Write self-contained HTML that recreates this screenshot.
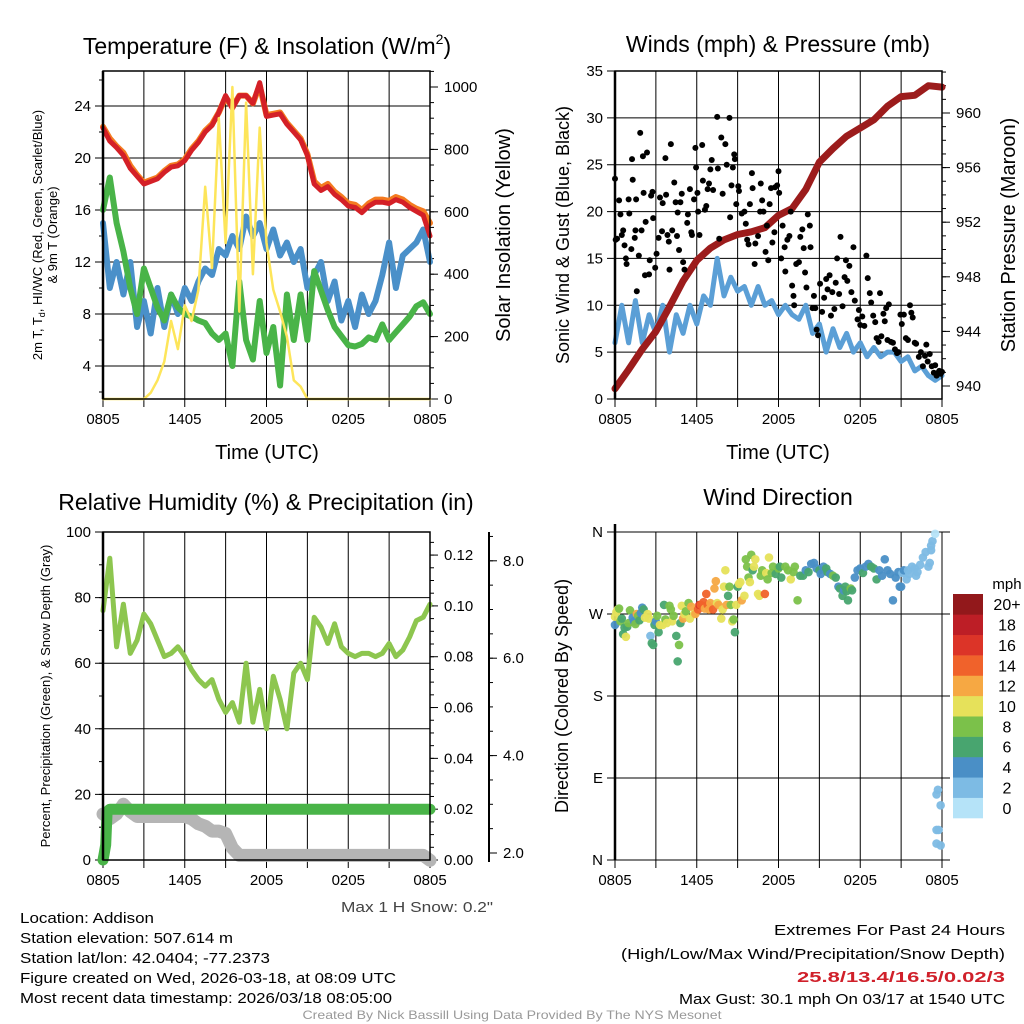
<!DOCTYPE html>
<html><head><meta charset="utf-8"><title>Mesonet Station Meteogram</title>
<style>
html,body{margin:0;padding:0;background:#fff;}
svg{display:block;font-family:"Liberation Sans",sans-serif;}
</style></head>
<body>
<svg id="chart" width="1024" height="1024" viewBox="0 0 1024 1024" xmlns="http://www.w3.org/2000/svg">
<rect x="0" y="0" width="1024" height="1024" fill="#fff"/>
<text x="267" y="54" font-size="23" text-anchor="middle">Temperature (F) &amp; Insolation (W/m<tspan font-size="14" dy="-10">2</tspan><tspan dy="10">)</tspan></text>
<text x="778" y="52" font-size="23" text-anchor="middle">Winds (mph) &amp; Pressure (mb)</text>
<text x="266" y="510" font-size="23" text-anchor="middle">Relative Humidity (%) &amp; Precipitation (in)</text>
<text x="778" y="505" font-size="23" text-anchor="middle">Wind Direction</text>

<text x="267" y="459" font-size="20" text-anchor="middle">Time (UTC)</text>
<text x="778" y="459" font-size="20" text-anchor="middle">Time (UTC)</text>
<text transform="translate(42,235) rotate(-90)" font-size="13" text-anchor="middle">2m T, T<tspan font-size="9" dy="3">d</tspan><tspan dy="-3">, HI/WC (Red, Green, Scarlet/Blue)</tspan></text>
<text transform="translate(57,235) rotate(-90)" font-size="13" text-anchor="middle">&amp; 9m T (Orange)</text>
<text transform="translate(510,235) rotate(-90)" font-size="20" text-anchor="middle">Solar Insolation (Yellow)</text>
<text transform="translate(569,235) rotate(-90)" font-size="18" text-anchor="middle">Sonic Wind &amp; Gust (Blue, Black)</text>
<text transform="translate(1015,235) rotate(-90)" font-size="20" text-anchor="middle">Station Pressure (Maroon)</text>
<text transform="translate(50,696) rotate(-90)" font-size="13" text-anchor="middle">Percent, Precipitation (Green), &amp; Snow Depth (Gray)</text>
<text transform="translate(568,696) rotate(-90)" font-size="18" text-anchor="middle">Direction (Colored By Speed)</text>
<text x="493" y="912" font-size="15" fill="#444" text-anchor="end" textLength="152" lengthAdjust="spacingAndGlyphs">Max 1 H Snow: 0.2"</text>

<g font-size="15">
<text x="20" y="923" textLength="134" lengthAdjust="spacingAndGlyphs">Location: Addison</text>
<text x="20" y="943" textLength="213" lengthAdjust="spacingAndGlyphs">Station elevation: 507.614 m</text>
<text x="20" y="963" textLength="250" lengthAdjust="spacingAndGlyphs">Station lat/lon: 42.0404; -77.2373</text>
<text x="20" y="983" textLength="376" lengthAdjust="spacingAndGlyphs">Figure created on Wed, 2026-03-18, at 08:09 UTC</text>
<text x="20" y="1003" textLength="372" lengthAdjust="spacingAndGlyphs">Most recent data timestamp: 2026/03/18 08:05:00</text>
</g>
<g font-size="15" text-anchor="end">
<text x="1005" y="935" textLength="231" lengthAdjust="spacingAndGlyphs">Extremes For Past 24 Hours</text>
<text x="1005" y="959" textLength="384" lengthAdjust="spacingAndGlyphs">(High/Low/Max Wind/Precipitation/Snow Depth)</text>
<text x="1005" y="982" font-weight="bold" fill="#d0202a" textLength="208" lengthAdjust="spacingAndGlyphs">25.8/13.4/16.5/0.02/3</text>
<text x="1005" y="1004" textLength="326" lengthAdjust="spacingAndGlyphs">Max Gust: 30.1 mph On 03/17 at 1540 UTC</text>
</g>
<text x="512" y="1019" font-size="12" fill="#999" text-anchor="middle" textLength="419" lengthAdjust="spacingAndGlyphs">Created By Nick Bassill Using Data Provided By The NYS Mesonet</text>
</svg>
<script>
// ---------- data (hours since 0805 UTC, 0..24) ----------
const halfHours = [0,0.5,1,1.5,2,2.5,3,3.5,4,4.5,5,5.5,6,6.5,7,7.5,8,8.5,9,9.5,10,10.5,11,11.5,12,12.5,13,13.5,14,14.5,15,15.5,16,16.5,17,17.5,18,18.5,19,19.5,20,20.5,21,21.5,22,22.5,23,23.5,24];
const xTickLabels = ["0805","1405","2005","0205","0805"];
const tempRed = [22.3,21.3,20.8,20.2,19.2,18.6,18.0,18.2,18.4,18.9,19.3,19.4,19.8,20.6,21.2,22.0,22.5,23.5,24.8,23.8,24.8,24.8,24.2,25.8,23.2,23.3,23.4,22.6,22.0,21.4,20.2,18.0,17.5,17.8,17.2,16.8,16.3,16.2,15.8,16.3,16.6,16.6,16.5,16.8,16.6,16.2,15.9,15.6,14.0];
const tempOrange = [22.4,21.5,20.9,20.4,19.4,18.7,18.1,18.3,18.5,19.0,19.4,19.5,19.9,20.7,21.3,22.1,22.6,23.5,24.7,23.9,24.8,24.8,24.2,25.6,23.3,23.4,23.5,22.7,22.1,21.5,20.3,18.2,17.7,18.0,17.4,17.0,16.5,16.4,16.0,16.5,16.8,16.8,16.7,17.0,16.8,16.4,16.1,15.9,15.0];
const tempGreen = [16,18.5,15,12.8,10,8,11.5,10,8.5,7.5,9.5,8.5,8,7.8,7.5,7.3,6.5,6,6.5,4,10.5,6,4.5,9,5,7,2.5,9.5,6,9.5,6,11.3,9.8,8.3,7,6.3,5.6,5.5,5.7,6.2,6,7.2,6,6.6,7.2,7.8,8.6,8.9,8];
const tempBlue = [15,10,12,9.5,12,7,9,6.5,10,7,9.5,8,10,9,10.5,11.5,11,13,12.5,14,13,15.5,14,15,13,14.5,12.5,13.5,12,13,10,11,12,9,10.5,7.5,9,7,9.5,8,9,11,13.5,10,12.5,13,13.5,14.5,12];
const insolation = [0,0,0,0,0,0,0,20,60,120,250,160,300,250,350,680,420,900,500,1000,280,950,400,870,500,350,280,200,60,40,0,0,0,0,0,0,0,0,0,0,0,0,0,0,0,0,0,0,0];
const tempTicks = [4,8,12,16,20,24];
const insolTicks = [0,200,400,600,800,1000];

const windSpeed = [6,10,6,10.5,6,9,7,10,5,9,7,10,8,11,10,15,11,13,11.5,12,10,12,10,10.5,9,10,9,8.5,10,7,8,5,7.5,5.5,7,5,6,4.5,5.5,4.5,5,5,4,4.5,3,3.5,2.5,2,2.5];
const hours = [0,1,2,3,4,5,6,7,8,9,10,11,12,13,14,15,16,17,18,19,20,21,22,23,24];
const pressure = [939.8,941.2,942.7,944,945.8,947.7,949.2,950.1,950.7,951.1,951.3,951.6,952.5,953.0,954.4,956.4,957.4,958.3,958.9,959.5,960.5,961.2,961.3,962,961.9];
const gustTimes = [0,0.05,0.15,0.3,0.4,0.5,0.6,0.7,0.8,0.85,1.0,1.05,1.2,1.25,1.3,1.45,1.5,1.55,1.6,1.75,1.85,1.95,2.05,2.1,2.2,2.25,2.35,2.5,2.55,2.65,2.75,2.8,2.95,3.05,3.2,3.3,3.45,3.5,3.7,3.75,3.85,3.95,4.0,4.1,4.2,4.35,4.45,4.55,4.6,4.7,4.8,4.9,5.0,5.1,5.3,5.35,5.5,5.6,5.65,5.8,5.9,5.95,6.05,6.1,6.2,6.4,6.45,6.6,6.7,6.8,6.9,7.0,7.1,7.2,7.5,7.55,7.65,7.8,7.9,8.1,8.2,8.4,8.45,8.55,8.65,8.75,8.8,8.9,9.05,9.1,9.3,9.5,9.6,9.7,9.8,9.9,10.05,10.1,10.25,10.3,10.5,10.65,10.7,10.8,10.9,11.05,11.15,11.25,11.35,11.45,11.55,11.7,11.75,11.9,12.0,12.05,12.2,12.3,12.45,12.5,12.65,12.8,12.9,13.0,13.1,13.15,13.3,13.5,13.6,13.75,13.85,13.95,14.05,14.15,14.3,14.35,14.5,14.6,14.7,14.8,14.9,15.05,15.2,15.35,15.5,15.6,15.75,15.85,15.95,16.1,16.2,16.3,16.45,16.55,16.7,16.85,16.95,17.05,17.2,17.35,17.5,17.6,17.8,17.9,18.0,18.15,18.3,18.45,18.55,18.7,18.8,18.95,19.1,19.2,19.35,19.45,19.55,19.7,19.8,19.9,20.0,20.1,20.25,20.4,20.55,20.7,20.8,20.95,21.05,21.2,21.35,21.5,21.65,21.75,21.85,22.0,22.1,22.3,22.45,22.6,22.75,22.85,22.95,23.1,23.25,23.4,23.5,23.6,23.7,23.8,23.9,24.0];
const gustValues = [23.5,17,17.1,21.2,19.7,17.5,18,16.4,15,14.4,21.3,19.8,16,25.6,23.4,17.2,18,21.3,11.5,15.3,28.4,18,25.9,22,13.2,18.9,26.3,13.3,14.8,21.7,22.1,19.3,14,15.5,17.2,21.5,17.9,20.9,25.7,21.8,17.5,16.8,13.8,27.2,18,23.1,21,17.4,19.9,15.9,21,21.9,14.6,13.8,18.8,19.7,22.4,17.8,17.5,21.3,26.8,24.7,22,20,17.5,27.1,23.3,20.2,20.6,22.4,23,24.5,25.5,22.3,30.1,24.6,17.1,27.9,21.9,27.2,25,30,19.4,22.8,24.7,26.1,25.6,20.8,22.7,22.2,19.8,20,18.7,17,16.5,20.8,24.1,22.5,14.4,16.6,17.4,20,23,21.2,20,15.7,18.5,14.8,20.8,22.5,16.7,17.8,22.6,22.8,24.3,22,15,18.5,16.2,13.6,17,17.4,20,12.1,11,10,14.4,14.6,17.3,18.1,16.1,13.5,11.9,19.7,18.5,16.2,9.7,11,9.7,7.4,6.8,12.3,9.3,10.8,12.8,11.7,13.2,8.9,11.4,9.6,12.4,15,11.2,17.3,9.9,13,14.8,12.6,14.2,11.4,16.2,10.5,8.5,9.5,7.9,8.8,7.8,15.3,12.9,11.3,10.3,8.9,8.2,6.5,6.1,11.3,6.7,9.1,8.3,9.7,6.3,10.1,6.1,6,5.3,4.9,5,9,8,9,6.5,6.3,10,9.2,8.7,6,5.9,4.5,5,3.5,4.6,5.8,4,4.8,3.5,2.8,3.6,2.5,2.8,3,2.7,2.9];
const windTicks = [0,5,10,15,20,25,30,35];
const pressTicks = [940,944,948,952,956,960];

const relHumidity = [76,92,65,78,63,67,75,72,67,62,63,65,62,58,55,53,55,49,45,48,42,60,42,52,40,56,49,40,57,60,55,74,71,66,72,65,63,62,63,63,62,63,66,62,64,68,73,74,78];
const precipTimes = [0,0.1,0.2,0.3,0.5,24];
const precipValues = [0,0.003,0.006,0.019,0.02,0.02];
const snowDepth = [2.8,2.7,2.8,3.0,2.85,2.75,2.75,2.75,2.75,2.75,2.75,2.75,2.75,2.7,2.6,2.55,2.45,2.45,2.4,2.1,1.95,1.95,1.95,1.95,1.95,1.95,1.95,1.95,1.95,1.95,1.95,1.95,1.95,1.95,1.95,1.95,1.95,1.95,1.95,1.95,1.95,1.95,1.95,1.95,1.95,1.95,1.95,1.95,1.85];
const rhTicks = [0,20,40,60,80,100];
const precipTicks = [0,0.02,0.04,0.06,0.08,0.10,0.12];
const precipTickLabels = ["0.00","0.02","0.04","0.06","0.08","0.10","0.12"];
const snowTicks = [2,4,6,8];
const snowTickLabels = ["2.0","4.0","6.0","8.0"];

const dirTimes = [0,0,0.1,0.2,0.3,0.4,0.5,0.6,0.7,0.8,0.9,1.0,1.1,1.3,1.4,1.5,1.6,1.7,1.8,1.9,2.0,2.1,2.2,2.4,2.5,2.6,2.7,2.8,2.9,3.0,3.1,3.2,3.3,3.5,3.6,3.7,3.8,4.0,4.1,4.2,4.3,4.5,4.6,4.7,4.8,4.9,5.0,5.1,5.2,5.4,5.5,5.6,5.8,5.9,6.1,6.2,6.3,6.5,6.6,6.7,6.8,6.9,7.0,7.2,7.3,7.4,7.5,7.6,7.8,7.9,8.0,8.1,8.2,8.3,8.4,8.5,8.6,8.7,8.8,8.9,9.0,9.1,9.2,9.3,9.5,9.6,9.7,9.8,9.9,10.0,10.1,10.2,10.3,10.5,10.6,10.7,10.8,11.0,11.1,11.2,11.3,11.5,11.6,11.8,12.0,12.1,12.2,12.5,12.7,12.9,13.1,13.2,13.4,13.6,13.8,14.0,14.2,14.4,14.6,14.8,15.0,15.1,15.3,15.5,15.6,15.8,16.0,16.2,16.4,16.5,16.7,16.8,16.9,17.0,17.1,17.3,17.4,17.6,17.8,18.0,18.2,18.4,18.6,18.8,19.0,19.2,19.4,19.6,19.8,20.0,20.2,20.4,20.6,20.8,20.9,21.0,21.1,21.2,21.4,21.5,21.6,21.8,22.0,22.1,22.2,22.4,22.6,22.8,23.0,23.1,23.2,23.3,23.5,23.2,23.6,23.7,23.9,23.6,23.6,23.9,23.75];
const dirDegrees = [258,267,272,275,276,262,265,248,255,245,256,260,274,266,262,259,270,268,263,271,277,275,266,270,265,246,238,236,258,262,268,250,258,258,280,264,260,279,275,262,268,246,218,236,260,279,265,270,273,282,265,278,270,270,275,280,280,283,276,292,280,275,282,275,298,306,282,280,265,275,300,318,280,290,300,280,262,264,250,280,300,303,305,285,290,330,322,310,305,335,318,322,330,292,290,312,318,292,315,308,332,315,322,314,320,322,310,322,318,308,316,322,285,312,312,318,316,325,326,320,318,314,322,320,316,314,312,310,300,298,290,296,300,295,285,298,296,310,318,320,315,322,325,322,320,308,318,312,330,318,314,285,310,316,300,300,315,318,308,318,314,322,320,312,316,324,332,338,322,326,345,350,358,340,72,77,60,33,18,16,33];
const dirSpeeds = [4,10,10,10,9,8,6,6,6,10,6,8,8,4,4,8,12,8,6,4,4,6,10,10,10,2,6,6,6,4,8,6,10,10,6,8,10,8,8,10,8,6,6,8,6,10,12,10,8,8,10,12,10,12,14,16,14,14,12,14,14,12,12,14,12,12,10,12,10,10,10,10,12,6,8,8,10,8,6,10,6,10,10,12,10,8,8,8,10,8,6,10,10,10,10,8,8,14,10,8,10,8,8,6,8,6,6,8,8,10,8,8,8,6,6,4,6,4,4,4,6,4,4,6,6,4,8,6,4,6,6,4,6,6,6,8,6,4,4,4,6,4,4,6,6,6,4,4,4,4,4,4,4,4,4,4,2,4,2,2,2,2,2,2,2,2,2,2,2,2,2,2,0,2,2,2,2,2,2,2,2];
const speedBinLabels = ["0","2","4","6","8","10","12","14","16","18","20+"];
const speedBinColors = ["#b5e3f8","#7dbbe4","#4a8fc6","#48a56f","#7bc14a","#e6e15a","#f6a843","#f0622b","#dc3428","#bd1e26","#92181b"];
const dirTicks = [0,90,180,270,360];
const dirTickLabels = ["N","E","S","W","N"];

// ---------- helpers ----------
const NS = 'http://www.w3.org/2000/svg';
const svg = document.getElementById('chart');
function mk(tag, attrs, name) {
  const e = document.createElementNS(NS, tag);
  for (const k in attrs) e.setAttribute(k, attrs[k]);
  
  
  svg.appendChild(e);
  return e;
}
function label(x, y, s, size, anchor, name) {
  const e = mk('text', {x: x, y: y, 'font-size': size, 'text-anchor': anchor}, name);
  e.textContent = s;
  return e;
}
function seg(x1, y1, x2, y2, w, name) {
  return mk('line', {x1: x1, y1: y1, x2: x2, y2: y2, stroke: '#000', 'stroke-width': w}, name);
}
function polyline(xs, ys, color, w, name) {
  const pts = xs.map((x, i) => x.toFixed(1) + ',' + ys[i].toFixed(1)).join(' ');
  return mk('polyline', {points: pts, fill: 'none', stroke: color, 'stroke-width': w, 'stroke-linejoin': 'round', 'stroke-linecap': 'round'}, name);
}
function panel(x0, x1, y0, y1) {
  return {x0: x0, x1: x1, y0: y0, y1: y1, tx: t => x0 + t / 24 * (x1 - x0)};
}
function timeGrid(P, prefix) {
  for (let t = 0; t <= 24; t += 3) {
    seg(P.tx(t), P.y0, P.tx(t), P.y1 + 8, 1, prefix + '-vgrid');
  }
  xTickLabels.forEach((s, i) => label(P.tx(i * 6), P.y1 + 25, s, 15, 'middle', prefix + '-x-tick-label'));
}
function leftAxis(P, ticks, fy, labels, minorStep, prefix) {
  ticks.forEach((v, i) => {
    seg(P.x0 - 8, fy(v), P.x1, fy(v), 1, prefix + '-hgrid');
    label(P.x0 - 12, fy(v) + 5, labels ? labels[i] : String(v), 15, 'end', prefix + '-y-tick-label');
  });
  if (minorStep) {
    for (let v = ticks[0] - minorStep * 4; v <= ticks[ticks.length - 1] + minorStep * 4; v += minorStep) {
      const y = fy(v);
      if (y >= P.y0 && y <= P.y1) seg(P.x0 - 4, y, P.x0, y, 1, prefix + '-y-minor-tick');
    }
  }
}
function rightAxis(P, ax, ticks, fy, labels, minorStep, prefix, top, bottom) {
  ticks.forEach((v, i) => {
    seg(ax, fy(v), ax + 8, fy(v), 1, prefix + '-tick');
    label(ax + 14, fy(v) + 5, labels ? labels[i] : String(v), 15, 'start', prefix + '-tick-label');
  });
  const lo = ticks[0] - (ticks[1] - ticks[0]) * 2, hi = ticks[ticks.length - 1] + (ticks[1] - ticks[0]) * 2;
  const n = Math.round((hi - lo) / minorStep);
  for (let k = 0; k <= n; k++) {
    const y = fy(lo + k * minorStep);
    if (y >= top && y <= bottom) seg(ax, y, ax + 4, y, 1, prefix + '-minor-tick');
  }
}
function frame(P, name) {
  mk('rect', {x: P.x0, y: P.y0, width: P.x1 - P.x0, height: P.y1 - P.y0, fill: 'none', stroke: '#000', 'stroke-width': 1.5}, name);
  seg(P.x0, P.y0, P.x0, P.y1, 2.5, name + '-left-edge');
}

// ---------- panel 1: temperature ----------
const P1 = panel(103, 430, 71, 399);
const fT = v => 418 - 13 * v;
const fI = w => 399 - 0.312 * w;
timeGrid(P1, 'temp');
leftAxis(P1, tempTicks, fT, null, 2, 'temp');
rightAxis(P1, P1.x1, insolTicks, fI, null, 50, 'insolation-axis', P1.y0, P1.y1);
const X1 = halfHours.map(P1.tx);
polyline(X1, tempBlue.map(fT), '#4a90c9', 6, 'windchill-line');
polyline(X1, tempGreen.map(fT), '#49b448', 6, 'dewpoint-line');
polyline(X1, tempOrange.map(fT), '#f47b20', 6, 'temp-9m-line');
polyline(X1, tempRed.map(fT), '#d42027', 5, 'temp-2m-line');
polyline(X1, insolation.map(fI), '#fde55a', 2.5, 'insolation-line');
frame(P1, 'temp-frame');

// ---------- panel 2: wind ----------
const P2 = panel(615, 942, 71, 399);
const fW = v => 399 - 9.371 * v;
const fP = p => 386 - 13.65 * (p - 940);
timeGrid(P2, 'wind');
leftAxis(P2, windTicks, fW, null, 0, 'wind');
rightAxis(P2, P2.x1, pressTicks, fP, null, 1, 'pressure-axis', P2.y0, P2.y1);
polyline(halfHours.map(P2.tx), windSpeed.map(fW), '#5b9fd6', 5, 'wind-speed-line');
polyline(hours.map(P2.tx), pressure.map(fP), '#9c1c1c', 7, 'pressure-line');
gustTimes.forEach((t, i) => {
  mk('circle', {cx: P2.tx(t), cy: fW(gustValues[i]), r: 3, fill: '#000'}, 'gust-point');
});
frame(P2, 'wind-frame');

// ---------- panel 3: humidity & precip ----------
const P3 = panel(103, 430, 532, 860);
const fRH = v => 860 - 3.28 * v;
const fPr = v => 860 - 2541 * v;
const fS = s => 853 - 48.7 * (s - 2);
timeGrid(P3, 'rh');
leftAxis(P3, rhTicks, fRH, null, 10, 'rh');
rightAxis(P3, P3.x1, precipTicks, fPr, precipTickLabels, 0.005, 'precip-axis', P3.y0, P3.y1);
seg(489, 532, 489, 862, 2, 'snow-axis-line');
rightAxis(P3, 489, snowTicks, fS, snowTickLabels, 0.5, 'snow-axis', 532, 862);
polyline(halfHours.map(P3.tx), snowDepth.map(fS), '#b5b5b5', 13, 'snow-depth-line');
polyline(halfHours.map(P3.tx), relHumidity.map(fRH), '#8dc64f', 5, 'humidity-line');
polyline(precipTimes.map(P3.tx), precipValues.map(fPr), '#49b448', 11, 'precip-line');
frame(P3, 'rh-frame');

// ---------- panel 4: wind direction ----------
const P4 = panel(615, 942, 532, 860);
const fD = d => 860 - d / 360 * 328;
timeGrid(P4, 'dir');
dirTicks.forEach((d, i) => {
  seg(P4.x0 - 8, fD(d), P4.x1 + 8, fD(d), 1, 'dir-hgrid');
  label(P4.x0 - 12, fD(d) + 5, dirTickLabels[i], 15, 'end', 'dir-y-tick-label');
});
seg(P4.x0, P4.y0 - 8, P4.x0, P4.y1, 2.5, 'dir-left-edge');
dirTimes.forEach((t, i) => {
  const bin = Math.min(10, Math.floor(dirSpeeds[i] / 2));
  mk('circle', {cx: P4.tx(t), cy: fD(dirDegrees[i]), r: 4.3, fill: speedBinColors[bin], 'fill-opacity': 0.95}, 'direction-point');
});
// colorbar
const cbTop = 594, cbBottom = 818, cbH = (cbBottom - cbTop) / speedBinColors.length;
label(1007, 589, 'mph', 15, 'middle', 'colorbar-title');
speedBinColors.forEach((c, i) => {
  const y = cbBottom - (i + 1) * cbH;
  mk('rect', {x: 953, y: y, width: 30, height: cbH + 0.3, fill: c}, 'colorbar-box');
  label(1007, y + cbH / 2 + 6, speedBinLabels[i], 16, 'middle', 'colorbar-label');
});
</script>
</body></html>
